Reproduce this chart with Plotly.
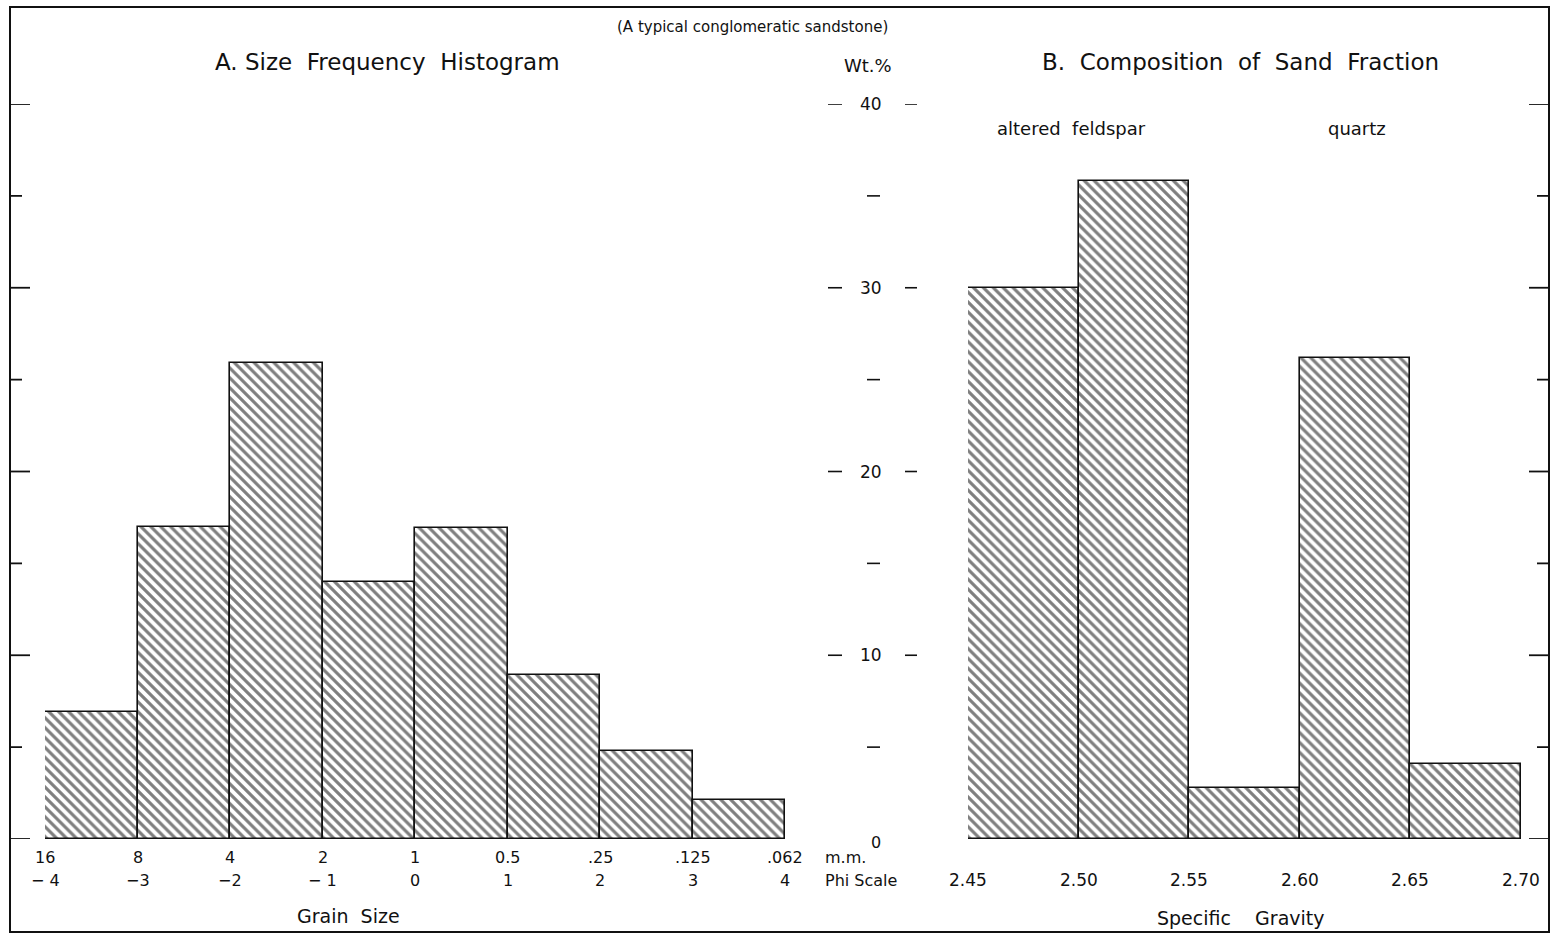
import plotly.graph_objects as go

W, H = 1553, 935

# ---------------- data ----------------
phi_left_edges = [-4, -3, -2, -1, 0, 1, 2, 3]
phi_bin_width = 1
size_wt_pct = [6.9, 17.0, 25.9, 14.0, 16.9, 8.9, 4.8, 2.1]

phi_ticks = [-4, -3, -2, -1, 0, 1, 2, 3, 4]
mm_labels = ["16", "8", "4", "2", "1", "0.5", ".25", ".125", ".062"]
phi_labels = ["− 4", "−3", "−2", "− 1", "0", "1", "2", "3", "4"]

sg_left_edges = [2.45, 2.50, 2.55, 2.60, 2.65]
sg_bin_width = 0.05
sg_wt_pct = [30.0, 35.8, 2.8, 26.2, 4.1]
sg_ticks = [2.45, 2.50, 2.55, 2.60, 2.65, 2.70]
sg_labels = ["2.45", "2.50", "2.55", "2.60", "2.65", "2.70"]

wt_major = [10, 20, 30, 40]
wt_minor = [5, 15, 25, 35]

FONT = "DejaVu Sans"
INK = "#111111"


def px(x):
    return x / W


def py(y):
    return 1 - y / H


pattern = dict(shape="\\", fgcolor="black", bgcolor="white", size=7, solidity=0.45)

fig = go.Figure()
fig.add_trace(go.Bar(
    x=phi_left_edges, y=size_wt_pct, width=[phi_bin_width] * len(phi_left_edges), offset=0,
    marker=dict(color="white", pattern=pattern, line=dict(color=INK, width=1.6)),
    xaxis="x", yaxis="y", showlegend=False, hoverinfo="skip"))
fig.add_trace(go.Bar(
    x=sg_left_edges, y=sg_wt_pct, width=[sg_bin_width] * len(sg_left_edges), offset=0,
    marker=dict(color="white", pattern=pattern, line=dict(color=INK, width=1.6)),
    xaxis="x2", yaxis="y", showlegend=False, hoverinfo="skip"))

ax_common = dict(showgrid=False, zeroline=False, showticklabels=False, ticks="", showline=False)
fig.update_layout(
    width=W, height=H, margin=dict(l=0, r=0, t=0, b=0),
    paper_bgcolor="white", plot_bgcolor="white",
    xaxis=dict(domain=[px(45), px(785)], range=[phi_ticks[0], phi_ticks[-1]], **ax_common),
    xaxis2=dict(domain=[px(968), px(1521)], range=[sg_ticks[0], sg_ticks[-1]], anchor="y", **ax_common),
    yaxis=dict(domain=[py(839), py(104)], range=[0, 40], **ax_common),
    bargap=0,
)

shapes = []
# outer frame
shapes.append(dict(type="rect", xref="paper", yref="paper", x0=px(10), x1=px(1549), y0=py(932), y1=py(7),
                   line=dict(color=INK, width=2)))

# frame ticks (left and right edges)
for v in [0] + wt_major:
    shapes.append(dict(type="line", xref="paper", yref="y", x0=px(10), x1=px(30), y0=v, y1=v,
                       line=dict(color=INK, width=1.8)))
    shapes.append(dict(type="line", xref="paper", yref="y", x0=px(1529), x1=px(1549), y0=v, y1=v,
                       line=dict(color=INK, width=1.8)))
for v in wt_minor:
    shapes.append(dict(type="line", xref="paper", yref="y", x0=px(10), x1=px(22), y0=v, y1=v,
                       line=dict(color=INK, width=1.8)))
    shapes.append(dict(type="line", xref="paper", yref="y", x0=px(1537), x1=px(1549), y0=v, y1=v,
                       line=dict(color=INK, width=1.8)))

# central Wt.% scale
for v in wt_major:
    shapes.append(dict(type="line", xref="paper", yref="y", x0=px(828), x1=px(842), y0=v, y1=v,
                       line=dict(color=INK, width=1.6)))
    shapes.append(dict(type="line", xref="paper", yref="y", x0=px(905), x1=px(917), y0=v, y1=v,
                       line=dict(color=INK, width=1.6)))
for v in wt_minor:
    shapes.append(dict(type="line", xref="paper", yref="y", x0=px(867), x1=px(880), y0=v, y1=v,
                       line=dict(color=INK, width=1.6)))

fig.update_layout(shapes=shapes)

ann = []


def text(x, y, s, size, xref="paper", yref="paper", xanchor="center"):
    ann.append(dict(x=x, y=y, xref=xref, yref=yref, text=s, showarrow=False,
                    xanchor=xanchor, yanchor="middle",
                    font=dict(family=FONT, size=size, color=INK)))


# titles
text(px(752), py(27), "(A typical conglomeratic sandstone)", 15)
text(px(387), py(62), "A. Size  Frequency  Histogram", 23)
text(px(1240), py(62), "B.  Composition  of  Sand  Fraction", 23)
text(px(868), py(65), "Wt.%", 18)
text(px(1071), py(129), "altered  feldspar", 18)
text(px(1357), py(129), "quartz", 18)

# central scale labels
for v in wt_major:
    text(px(871), v, str(v), 17, yref="y")
text(px(876), py(842), "0", 16)

# left x-axis labels (two rows)
for t, m, p in zip(phi_ticks, mm_labels, phi_labels):
    text(t, py(857), m, 16, xref="x")
    text(t, py(880), p, 16, xref="x")
text(px(823), py(857), "m.m.", 16, xanchor="left")
text(px(823), py(880), "Phi Scale", 16, xanchor="left")
text(px(348), py(916), "Grain  Size", 19)

# right x-axis labels
for t, s in zip(sg_ticks, sg_labels):
    text(t, py(880), s, 17, xref="x2")
text(px(1241), py(918), "Specific    Gravity", 19)

fig.update_layout(annotations=ann)

fig.write_html("out.html")
